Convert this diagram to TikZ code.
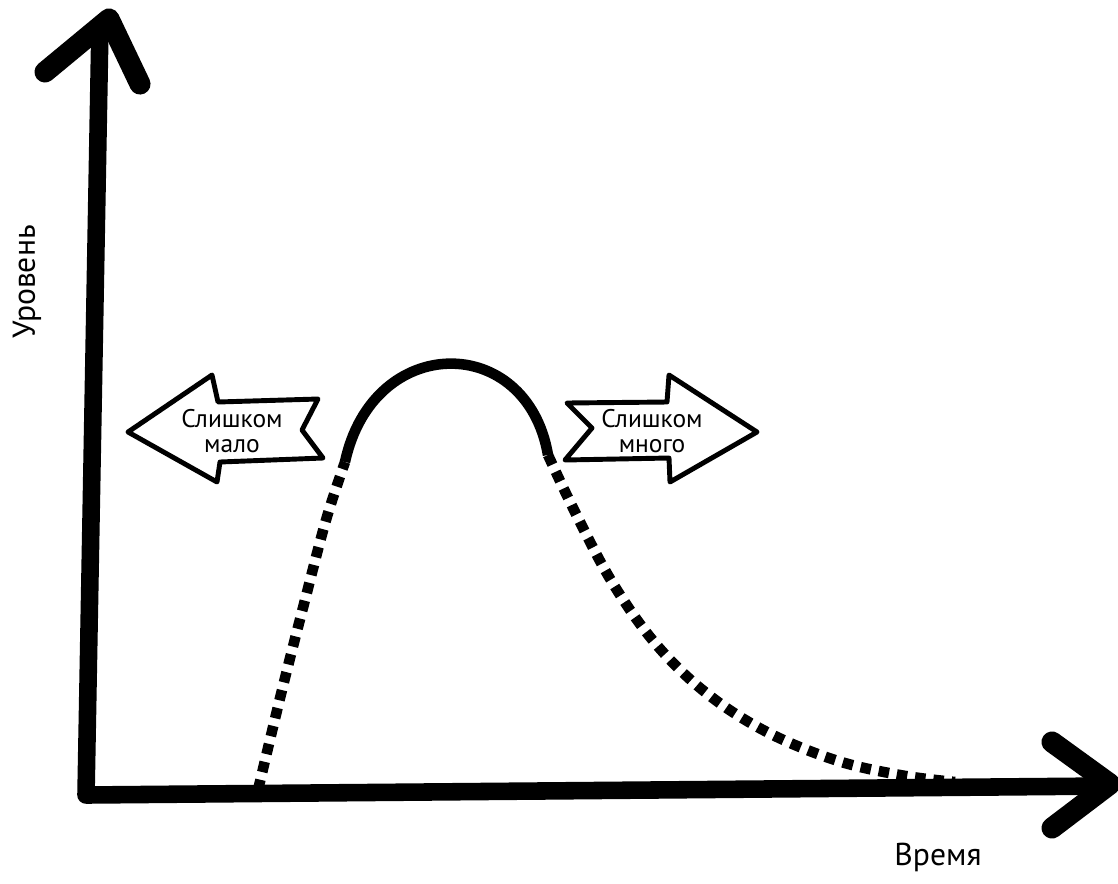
\documentclass[tikz,border=0pt]{standalone}
\usepackage{fontspec}
\setmainfont{PT Sans}
\usetikzlibrary{positioning}

\begin{document}
\begin{tikzpicture}[
        x=0.02cm, y=-0.02cm,
        axis/.style={line width=10pt, line cap=round, line join=round},
        axistip/.style={line width=12pt, line cap=round, line join=round},
        bell/.style={line width=6pt},
        dotline/.style={line width=6pt, dash pattern=on 6pt off 4.5pt},
        blockarrow/.style={line width=2.8pt, line join=round, fill=white},
        axislabel/.style={font=\fontsize{18}{20}\selectfont},
        arrowtext/.style={font=\fontsize{14.5}{14}\selectfont, align=center, inner sep=0pt}
    ]
        \useasboundingbox (0,0) rectangle (1118,883);

        % Axes
        \coordinate (top) at (100,25);
        \coordinate (origin) at (86,795);
        \coordinate (right) at (1106,786);
        \draw[axis] (top) -- (origin) -- (right);
        \draw[axistip] (45,72) -- (109,19) -- (140,84);
        \draw[axistip] (1052,742) -- (1110,784) -- (1052,828);

        \node[axislabel, rotate=90] (ylab) at (27,282) {Уровень};
        \node[axislabel] (xlab) at (938,857) {Время};

        % Curve
        \coordinate (lstart) at (258,790);
        \coordinate (lsolid) at (345,462);
        \coordinate (rsolid) at (548,455);
        \coordinate (rend) at (955,782);
        \draw[dotline] plot[smooth, tension=0.6] coordinates {(lstart) (282,690) (305,600) (326,520) (lsolid)};
        \draw[bell] (lsolid) .. controls (373,332) and (527,332) .. (rsolid);
        \draw[dotline] plot[smooth, tension=0.6] coordinates {(rsolid) (575,512) (612,582) (655,643) (705,692) (765,731) (835,760) (900,775) (rend)};

        % Block arrows
        \draw[blockarrow] (128,432) -- (212,375) -- (218,402) -- (318,399)
            -- (302,430) -- (323,458) -- (220,462) -- (217,482) -- cycle;
        \node[arrowtext] (low) at (232,431) {Слишком\\мало};

        \draw[blockarrow] (757,432) -- (669,375) -- (667,402) -- (567,403)
            -- (592,428) -- (565,460) -- (669,458) -- (670,482) -- cycle;
        \node[arrowtext] (high) at (652,431) {Слишком\\много};
    \end{tikzpicture}
\end{document}
